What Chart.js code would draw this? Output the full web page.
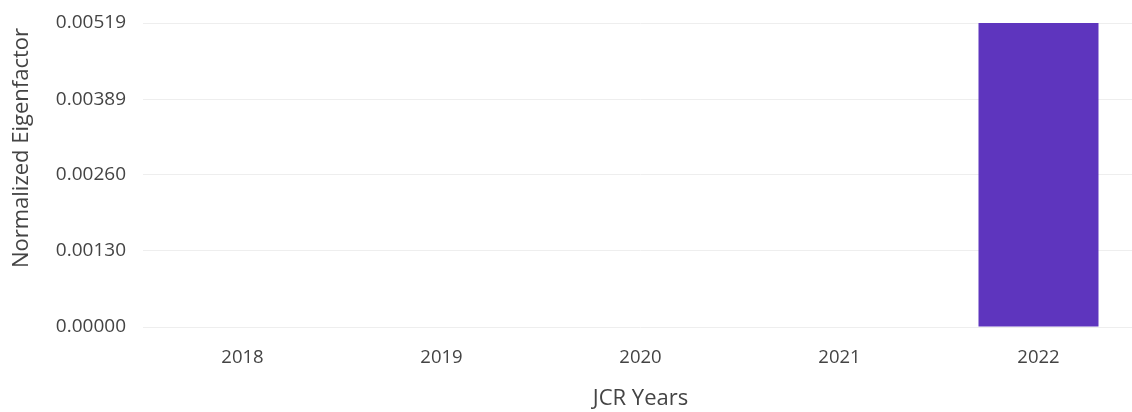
<!DOCTYPE html>
<html>
<head>
<meta charset="utf-8">
<script src="https://cdn.jsdelivr.net/npm/chart.js@4"></script>
<style>
    html, body { margin: 0; padding: 0; background: #fff; overflow: hidden; }
    #wrap { width: 1138px; height: 412px; }
</style>
</head>
<body>
<div id="wrap"><canvas id="efChart"></canvas></div>
<script>
// Ani JCR si valorile Eigenfactor normalizate
const years = ["2018", "2019", "2020", "2021", "2022"];
const eigenValues = [0, 0, 0, 0, 0.00519];

// Valorile si etichetele axei Y
const yTickValues = [0, 0.0013, 0.0026, 0.00389, 0.00519];
const yTickLabels = ["0.00000", "0.00130", "0.00260", "0.00389", "0.00519"];

const fontFamily = "'Open Sans', 'Noto Sans', sans-serif";

// Titlul axei Y, desenat manual (mai sus decat centrul zonei de grafic)
const yTitlePlugin = {
    id: 'yTitle',
    afterDraw(chart) {
        const c = chart.ctx;
        c.save();
        c.translate(22, 148);
        c.rotate(-Math.PI / 2);
        c.font = `22px ${fontFamily}`;
        c.fillStyle = "#444";
        c.textAlign = "center";
        c.textBaseline = "middle";
        c.fillText("Normalized Eigenfactor", 0, 0);
        c.restore();
    }
};

const ctx = document.getElementById('efChart').getContext('2d');
const efChart = new Chart(ctx, {
    type: 'bar',
    data: {
        labels: years,
        datasets: [{
            label: "Normalized Eigenfactor",
            data: eigenValues,
            backgroundColor: "#5e35be",
            borderWidth: 0,
            categoryPercentage: 1,
            barPercentage: 0.603
        }]
    },
    plugins: [yTitlePlugin],
    options: {
        responsive: true,
        maintainAspectRatio: false,
        animation: false,
        layout: { padding: { top: 23, right: 0, left: 0, bottom: 0 } },
        plugins: {
            legend: { display: false },
            tooltip: { enabled: false }
        },
        scales: {
            x: {
                grid: { display: false, drawTicks: false },
                border: { display: false },
                ticks: {
                    color: "#444",
                    padding: 20,
                    font: { family: fontFamily, size: 18.5 }
                },
                title: {
                    display: true,
                    text: "JCR Years",
                    color: "#444",
                    font: { family: fontFamily, size: 22 },
                    padding: { top: 8, bottom: 0 }
                },
                afterFit: (axis) => { axis.height = 85; }
            },
            y: {
                min: 0,
                max: yTickValues[yTickValues.length - 1],
                grid: { color: "#eeeeee", drawTicks: false },
                border: { display: false },
                afterBuildTicks: (axis) => {
                    axis.ticks = yTickValues.map(v => ({ value: v }));
                },
                ticks: {
                    color: "#444",
                    padding: 17,
                    font: { family: fontFamily, size: 19 },
                    callback: (value, index) => yTickLabels[index]
                },
                afterFit: (axis) => {
                    axis.width = 143;
                    axis.paddingTop = 0;
                    axis.paddingBottom = 0;
                }
            }
        }
    }
});
</script>
</body>
</html>
